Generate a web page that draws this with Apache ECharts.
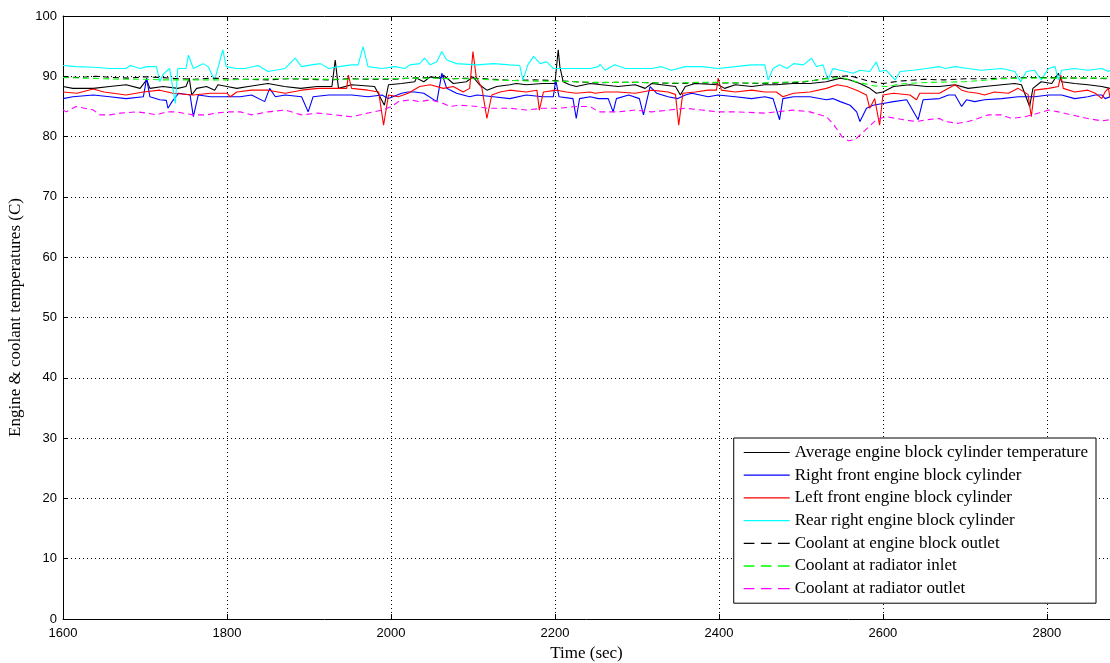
<!DOCTYPE html>
<html>
<head>
<meta charset="utf-8">
<script src="https://cdn.jsdelivr.net/npm/echarts@6/dist/echarts.min.js"></script>
<style>
html,body{margin:0;padding:0;background:#fff;}
#chart{width:1110px;height:663px;}
</style>
</head>
<body>
<div id="chart"></div>
<script>
// ---- data (time in sec, temperature in C) ----
var seriesNames = [
  'Average engine block cylinder temperature',
  'Right front engine block cylinder',
  'Left front engine block cylinder',
  'Rear right engine block cylinder',
  'Coolant at engine block outlet',
  'Coolant at radiator inlet',
  'Coolant at radiator outlet'
];

var avgTemp = [[1600,88.3],[1612,88.0],[1637,88.0],[1657,88.3],[1677,88.6],[1694,88.0],[1702,89.4],[1706,88.0],[1722,88.3],[1740,88.0],[1750,88.3],[1754,89.7],[1757,86.9],[1763,88.0],[1775,88.3],[1785,87.7],[1789,88.6],[1800,88.3],[1812,88.0],
[1826,88.3],[1850,88.8],[1870,88.3],[1890,88.0],[1910,88.3],[1928,88.3],[1932,92.7],[1936,88.0],[1952,88.6],[1980,88.3],[1992,85.2],[1997,88.6],[2013,88.8],[2029,89.1],
[2031,89.7],[2040,89.1],[2048,89.9],[2060,89.7],[2064,90.2],[2076,88.8],[2092,89.1],[2100,89.9],[2108,88.6],[2117,87.7],[2129,88.3],[2145,88.6],[2153,88.8],[2165,88.6],[2185,88.8],[2200,88.8],[2204,94.4],[2206,91.6],[2210,89.1],[2218,88.6],[2226,88.3],[2243,88.8],
[2257,88.6],[2277,88.3],[2298,88.6],[2310,88.0],[2318,88.8],[2330,88.6],[2347,88.3],[2353,86.9],[2359,88.3],[2371,88.8],[2399,88.6],[2407,88.0],[2420,88.6],[2440,88.3],[2456,88.6],
[2470,88.6],[2490,88.8],[2511,88.8],[2531,89.1],[2548,89.7],[2560,89.4],[2572,88.8],[2584,88.0],[2592,87.2],[2600,87.4],[2613,88.3],[2633,88.6],[2653,88.3],[2669,88.3],
[2688,88.6],[2704,88.0],[2724,88.3],[2745,88.6],[2761,88.8],[2769,88.6],[2779,85.0],[2783,88.0],[2793,89.1],[2806,88.8],[2814,90.5],[2818,89.1],[2834,88.8],[2850,88.6],[2867,88.3],[2877,88.0]];

var rightFront = [[1600,86.3],[1612,86.6],[1637,86.9],[1657,86.6],[1677,86.3],[1698,86.6],[1702,89.7],[1706,86.6],[1718,86.1],[1726,86.0],[1728,84.7],[1733,85.8],[1741,87.2],[1755,86.9],[1759,83.3],[1765,86.9],[1780,86.6],[1800,86.6],[1816,86.6],
[1830,86.9],[1846,85.8],[1852,88.0],[1859,86.6],[1871,86.9],[1891,86.6],[1899,84.1],[1905,86.6],[1924,86.9],[1952,86.9],[1972,86.6],[1989,86.9],[1997,86.3],[2013,87.2],[2021,87.4],[2029,87.4],
[2040,87.2],[2056,85.8],[2062,90.5],[2068,88.0],[2080,87.2],[2096,86.6],[2105,86.9],[2125,86.6],[2145,86.3],[2165,86.9],[2185,86.6],[2198,86.6],[2201,89.4],[2205,86.6],[2222,86.3],[2226,83.0],[2230,86.3],[2243,86.6],
[2253,86.3],[2265,86.3],[2271,84.1],[2275,86.3],[2290,86.9],[2303,86.3],[2308,83.6],[2316,88.3],[2324,87.2],[2338,86.6],[2350,86.3],[2359,86.9],[2367,87.2],[2387,86.6],[2399,86.9],[2420,86.6],[2440,86.3],[2456,86.6],
[2458,86.6],[2466,86.3],[2474,82.8],[2478,86.3],[2491,86.6],[2511,86.6],[2531,86.1],[2539,86.3],[2548,85.8],[2560,85.2],[2568,84.1],[2572,82.5],[2580,84.7],[2588,85.2],[2600,85.5],[2613,85.8],[2629,86.1],[2643,82.8],[2649,86.1],[2669,86.3],
[2680,86.9],[2688,86.9],[2696,85.0],[2702,86.1],[2712,85.8],[2724,86.1],[2745,86.3],[2765,86.6],[2785,86.6],[2802,86.9],[2818,86.9],[2834,86.3],[2850,86.6],[2859,86.9],[2867,86.9],[2871,86.3],[2877,86.6]];

var leftFront = [[1600,87.4],[1617,87.2],[1637,87.9],[1650,87.4],[1677,86.9],[1698,87.4],[1718,87.7],[1734,87.2],[1759,86.9],[1780,87.2],[1800,87.2],[1804,86.6],[1812,87.4],
[1830,87.7],[1850,87.7],[1871,87.2],[1891,87.7],[1911,88.0],[1932,88.0],[1946,88.0],[1948,90.2],[1952,88.0],[1972,87.7],[1985,87.4],[1991,81.9],[1997,86.9],[2009,86.6],[2021,87.2],
[2035,88.3],[2048,88.6],[2064,88.0],[2076,88.3],[2088,87.4],[2096,88.0],[2100,94.1],[2104,89.9],[2111,88.0],[2117,83.0],[2123,86.9],[2133,87.4],[2145,87.7],[2165,87.4],[2178,87.7],[2181,84.4],[2186,87.4],[2202,87.7],[2214,87.4],[2226,87.2],[2243,87.4],
[2249,87.2],[2261,87.4],[2277,87.4],[2298,87.2],[2318,87.7],[2338,87.4],[2347,87.0],[2351,81.9],[2356,87.2],[2371,87.4],[2387,87.7],[2397,87.7],[2399,89.7],[2403,87.7],[2420,87.4],[2440,87.7],[2456,87.4],
[2470,87.4],[2478,86.6],[2491,87.2],[2511,87.4],[2531,88.0],[2544,88.6],[2556,88.3],[2568,87.7],[2580,86.9],[2584,84.7],[2590,86.3],[2596,81.9],[2600,86.9],[2613,87.2],[2633,86.9],[2641,86.1],[2645,87.2],[2669,87.2],
[2684,88.3],[2688,88.6],[2696,87.7],[2704,87.4],[2716,87.2],[2724,86.9],[2736,87.4],[2753,87.2],[2765,88.0],[2777,87.0],[2781,83.3],[2785,87.7],[2802,88.0],[2814,88.3],[2817,90.2],[2820,88.0],[2834,87.4],[2850,87.7],[2859,87.2],[2867,86.3],[2871,87.4],[2875,88.0],[2877,86.6]];

var rearRight = [[1600,91.8],[1616,91.6],[1637,91.5],[1657,91.3],[1677,91.3],[1682,91.8],[1694,91.3],[1702,91.6],[1714,91.6],[1718,89.1],[1722,90.3],[1730,91.3],[1737,85.5],[1740,91.3],[1750,91.3],[1753,93.5],[1759,91.3],[1771,92.1],[1777,91.6],[1785,89.4],[1795,94.4],[1799,91.6],[1812,91.3],
[1822,91.3],[1838,91.8],[1850,90.8],[1871,91.3],[1883,93.0],[1891,91.6],[1903,91.9],[1914,92.1],[1924,91.3],[1936,91.6],[1952,91.9],[1960,91.9],[1966,94.9],[1972,91.6],[1989,91.3],[2005,91.6],[2017,91.3],[2023,91.9],
[2035,92.1],[2041,93.0],[2048,91.9],[2056,92.4],[2062,94.1],[2068,92.7],[2080,92.1],[2105,91.9],[2125,92.1],[2145,91.9],[2157,91.8],[2161,89.4],[2167,91.9],[2174,93.3],[2182,92.1],[2190,92.4],[2198,91.3],[2215,91.3],[2243,91.3],
[2253,91.6],[2255,92.0],[2261,91.0],[2273,91.9],[2286,91.3],[2318,91.3],[2330,91.6],[2342,91.0],[2359,91.6],[2379,91.6],[2399,91.3],[2420,91.6],[2440,91.9],[2456,91.9],
[2458,91.6],[2460,89.4],[2466,91.3],[2474,91.9],[2483,91.3],[2491,92.1],[2503,91.9],[2513,93.0],[2519,91.6],[2527,91.9],[2533,89.4],[2539,91.3],[2548,91.0],[2564,90.5],[2572,91.0],[2584,90.8],[2592,92.4],[2596,90.8],[2604,91.0],[2615,89.4],[2621,90.8],[2637,91.0],[2653,91.3],[2669,91.6],
[2676,91.3],[2688,91.6],[2704,91.3],[2720,91.0],[2745,91.3],[2761,90.8],[2768,89.1],[2775,90.8],[2785,91.0],[2793,89.4],[2802,91.3],[2810,91.6],[2814,89.4],[2818,91.0],[2834,91.3],[2850,91.0],[2867,91.3],[2875,90.8],[2877,91.0]];

var coolEngineOut = [[1600,89.9],[1620,89.8],[1640,90.0],[1660,89.8],[1680,89.7],[1700,89.9],[1720,89.8],[1740,89.6],[1760,89.5],[1780,89.7],[1800,89.6],[1825,89.5],[1850,89.4],[1875,89.6],[1900,89.5],[1925,89.4],[1950,89.6],[1975,89.5],[2000,89.5],[2025,89.7],[2050,89.8],[2075,89.6],[2100,89.7],[2125,89.5],[2150,89.3],[2175,89.4],[2200,89.3],[2225,89.1],[2250,88.9],[2275,89.0],[2300,89.0],[2325,88.9],[2350,88.8],[2375,88.9],[2400,88.9],[2425,88.9],[2450,88.8],[2475,88.9],[2500,89.0],[2520,89.4],[2540,89.9],[2560,90.1],[2580,89.3],[2600,88.8],[2620,89.2],[2650,89.5],[2675,89.4],[2700,89.6],[2725,89.6],[2750,89.7],[2775,89.8],[2800,89.8],[2825,89.7],[2850,89.7],[2877,89.6]];

var coolRadIn = [[1600,89.8],[1625,89.7],[1650,89.6],[1675,89.5],[1700,89.5],[1725,89.4],[1750,89.4],[1775,89.4],[1800,89.4],[1825,89.5],[1850,89.6],[1875,89.6],[1900,89.6],[1925,89.5],[1950,89.5],[1975,89.6],[2000,89.6],[2025,89.7],[2050,89.7],[2075,89.6],[2100,89.6],[2125,89.4],[2150,89.3],[2175,89.2],[2200,89.2],[2225,89.1],[2250,89.0],[2275,89.0],[2300,89.0],[2325,88.9],[2350,88.9],[2375,89.0],[2400,89.0],[2425,88.9],[2450,88.9],[2475,89.0],[2500,89.1],[2515,89.3],[2530,89.6],[2550,89.8],[2570,89.0],[2590,88.4],[2605,88.3],[2620,88.7],[2640,88.9],[2660,89.0],[2700,89.1],[2720,89.3],[2745,89.6],[2775,89.7],[2800,89.7],[2840,89.7],[2877,89.7]];

var coolRadOut = [[1600,84.4],[1604,84.1],[1616,85.0],[1637,84.4],[1645,83.6],[1657,83.6],[1670,83.9],[1690,84.1],[1702,83.9],[1714,83.6],[1726,84.1],[1738,84.1],[1746,83.9],[1759,83.6],[1775,83.6],[1787,83.9],[1800,84.1],[1816,84.1],
[1830,83.6],[1850,84.1],[1871,84.4],[1891,83.6],[1911,83.9],[1932,83.6],[1952,83.3],[1972,83.9],[1989,84.4],[2001,85.0],[2009,85.8],[2023,86.1],
[2035,85.8],[2048,86.1],[2064,85.5],[2072,85.0],[2084,85.2],[2105,85.0],[2117,84.7],[2145,84.7],[2165,84.4],[2185,84.7],[2205,84.7],[2226,85.0],[2243,85.0],
[2253,84.1],[2277,84.1],[2298,84.4],[2318,84.1],[2359,84.7],[2379,84.4],[2399,84.1],[2420,84.1],[2456,83.9],
[2470,84.1],[2491,84.4],[2511,84.1],[2531,83.3],[2540,82.0],[2550,80.0],[2558,79.3],[2566,79.5],[2578,81.0],[2592,82.8],[2604,83.3],[2625,82.8],[2641,82.5],[2653,82.8],[2669,83.0],
[2676,82.5],[2692,82.2],[2704,82.5],[2716,83.0],[2728,83.6],[2745,83.6],[2757,83.0],[2773,83.3],[2790,83.9],[2802,84.4],[2814,84.1],[2830,83.6],[2850,83.0],[2867,82.6],[2877,82.8]];

var seriesData = [avgTemp, rightFront, leftFront, rearRight, coolEngineOut, coolRadIn, coolRadOut];
var seriesColors = ['#000000', '#0000ff', '#ff0000', '#00ffff', '#000000', '#00ff00', '#ff00ff'];
var seriesDashed = [false, false, false, false, true, true, true];

var chart = echarts.init(document.getElementById('chart'), null, {renderer: 'canvas'});
var sansFont = '"Liberation Sans", Arial, sans-serif';
var serifFont = '"Liberation Serif", "Times New Roman", serif';

var solidIcon = 'path://M0,0h46v1.2h-46z';
var dashedIcon = 'path://M3,0h10v1.2h-10z M19,0h10v1.2h-10z M35,0h11v1.2h-11z';

var series = seriesNames.map(function (name, i) {
  return {
    name: name,
    type: 'line',
    data: seriesData[i],
    showSymbol: false,
    symbol: 'none',
    animation: false,
    lineStyle: {
      color: seriesColors[i],
      width: 1.1,
      type: seriesDashed[i] ? [6, 4] : 'solid'
    },
    itemStyle: {color: seriesColors[i]}
  };
});

var legendData = seriesNames.map(function (name, i) {
  return {name: name, icon: seriesDashed[i] ? dashedIcon : solidIcon, itemStyle: {color: seriesColors[i]}};
});

var plainNum = function (v) { return String(v); };

var option = {
  backgroundColor: '#ffffff',
  animation: false,
  grid: {left: 63, top: 16, right: 0, bottom: 44, containLabel: false, outerBoundsMode: 'none'},
  legend: {
    data: legendData,
    orient: 'vertical',
    right: 14,
    top: 438,
    itemWidth: 46,
    itemHeight: 14,
    itemGap: 5.7,
    symbolKeepAspect: true,
    padding: [6, 8, 6, 10],
    backgroundColor: '#ffffff',
    borderColor: '#000000',
    borderWidth: 1,
    borderRadius: 0,
    textStyle: {fontFamily: serifFont, fontSize: 17, color: '#000000'},
    selectedMode: false
  },
  xAxis: [{
    type: 'value',
    min: 1600,
    max: 2877,
    interval: 200,
    name: 'Time (sec)',
    nameLocation: 'middle',
    nameGap: 25,
    nameTextStyle: {fontFamily: serifFont, fontSize: 17, color: '#000'},
    axisLine: {show: true, onZero: false, lineStyle: {color: '#000', width: 1}},
    axisTick: {show: true, inside: true, length: 5, lineStyle: {color: '#000'}},
    axisLabel: {fontFamily: sansFont, fontSize: 13, color: '#000', margin: 8, showMaxLabel: false, formatter: plainNum},
    splitLine: {show: true, lineStyle: {color: '#000', type: [1, 3], width: 1}}
  }, {
    type: 'value',
    position: 'top',
    min: 1600,
    max: 2877,
    interval: 200,
    axisLine: {show: true, onZero: false, lineStyle: {color: '#000', width: 1}},
    axisTick: {show: true, inside: true, length: 5, lineStyle: {color: '#000'}},
    axisLabel: {show: false},
    splitLine: {show: false}
  }],
  yAxis: [{
    type: 'value',
    min: 0,
    max: 100,
    interval: 10,
    name: 'Engine & coolant temperatures (C)',
    nameLocation: 'middle',
    nameGap: 37,
    nameTextStyle: {fontFamily: serifFont, fontSize: 17, color: '#000'},
    axisLine: {show: true, lineStyle: {color: '#000', width: 1}},
    axisTick: {show: true, inside: true, length: 5, lineStyle: {color: '#000'}},
    axisLabel: {fontFamily: sansFont, fontSize: 13, color: '#000', margin: 6, formatter: plainNum},
    splitLine: {show: true, lineStyle: {color: '#000', type: [1, 3], width: 1}}
  }],
  series: series
};
chart.setOption(option);
</script>
</body>
</html>
